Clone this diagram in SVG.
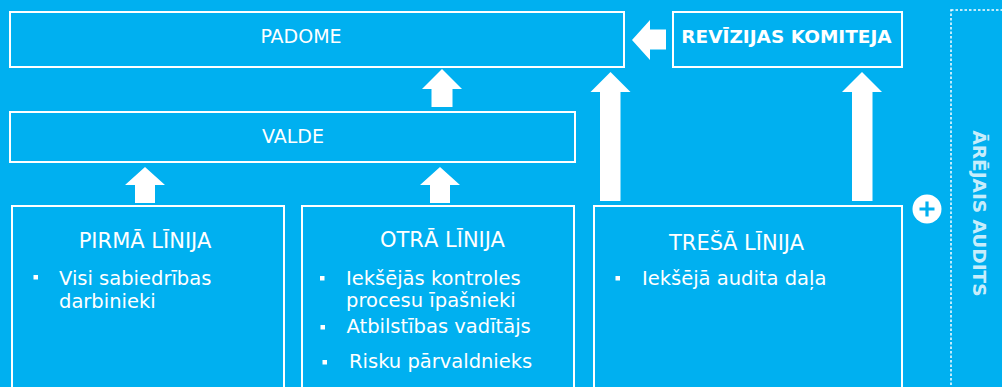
<svg xmlns="http://www.w3.org/2000/svg" width="1002" height="387" viewBox="0 0 1002 387">
  <style>
    .box { fill: none; stroke: #FFFFFF; stroke-width: 2; }
    .arrow { fill: #FFFFFF; }
    .t { font-family: "DejaVu Sans", "Liberation Sans", sans-serif; fill: #FFFFFF; }
    .top { font-size: 19px; text-anchor: middle; }
    .hdr { font-size: 21px; text-anchor: middle; }
    .body { font-size: 19.5px; }
    .bullet { fill: #FFFFFF; }
  </style>
  <rect x="0" y="0" width="1002" height="387" fill="#00B0F0"/>

  <g id="padome">
    <rect class="box" x="10" y="12" width="614" height="55"/>
    <text class="t top" x="301" y="43">PADOME</text>
  </g>

  <g id="revizijas-komiteja">
    <rect class="box" x="673" y="12" width="229" height="55"/>
    <text class="t" x="786.5" y="43" font-size="18.5" font-weight="bold" text-anchor="middle">REVĪZIJAS KOMITEJA</text>
  </g>

  <g id="valde">
    <rect class="box" x="10" y="112" width="565" height="50"/>
    <text class="t top" x="293" y="143" font-size="19.5">VALDE</text>
  </g>

  <g id="pirma-linija">
    <rect class="box" x="12" y="206" width="272" height="200"/>
    <text class="t hdr" x="145" y="248">PIRMĀ LĪNIJA</text>
    <rect class="bullet" x="33.5" y="275" width="4.5" height="4.5"/>
    <text class="t body" x="59" y="285">Visi sabiedrības</text>
    <text class="t body" x="59" y="308">darbinieki</text>
  </g>

  <g id="otra-linija">
    <rect class="box" x="302" y="206" width="272" height="200"/>
    <text class="t hdr" x="442.5" y="247">OTRĀ LĪNIJA</text>
    <rect class="bullet" x="320" y="276" width="4.5" height="4.5"/>
    <text class="t body" x="346" y="285">Iekšējās kontroles</text>
    <text class="t body" x="346" y="307">procesu īpašnieki</text>
    <rect class="bullet" x="320.5" y="325" width="4.5" height="4.5"/>
    <text class="t body" x="346.5" y="333">Atbilstības vadītājs</text>
    <rect class="bullet" x="322.5" y="360" width="4.5" height="4.5"/>
    <text class="t body" x="349" y="368">Risku pārvaldnieks</text>
  </g>

  <g id="tresa-linija">
    <rect class="box" x="594" y="206" width="308" height="200"/>
    <text class="t hdr" x="736.5" y="250">TREŠĀ LĪNIJA</text>
    <rect class="bullet" x="615.5" y="276" width="4.5" height="4.5"/>
    <text class="t body" x="642" y="285">Iekšējā audita daļa</text>
  </g>

  <g id="arejais-audits">
    <rect x="951" y="10" width="80" height="400" fill="none" stroke="#FFFFFF" stroke-width="1.5" stroke-dasharray="2.5 2"/>
    <text class="t" transform="translate(973,213.5) rotate(90)" font-size="18.5" font-weight="bold" text-anchor="middle" fill-opacity="0.8">ĀRĒJAIS AUDITS</text>
  </g>

  <g id="plus">
    <circle cx="927" cy="209" r="14.5" fill="#FFFFFF"/>
    <path d="M927 201.5 V216.5 M919.5 209 H934.5" stroke="#00B0F0" stroke-width="3.2" fill="none"/>
  </g>

  <g id="connectors">
    <path class="arrow" d="M442 69 L462 89 L452.5 89 L452.5 107 L431.5 107 L431.5 89 L422 89 Z"/>
    <path class="arrow" d="M145 167 L165 185 L155 185 L155 203 L135 203 L135 185 L125 185 Z"/>
    <path class="arrow" d="M440 167 L460 185 L450 185 L450 203 L430 203 L430 185 L420 185 Z"/>
    <path class="arrow" d="M610.5 72 L630.5 92 L620.5 92 L620.5 201 L600 201 L600 92 L590.5 92 Z"/>
    <path class="arrow" d="M862 72 L882 92 L872.5 92 L872.5 201 L852 201 L852 92 L842 92 Z"/>
    <path class="arrow" d="M632 40 L650 20 L650 29.5 L666 29.5 L666 49.5 L650 49.5 L650 60 Z"/>
  </g>
</svg>
